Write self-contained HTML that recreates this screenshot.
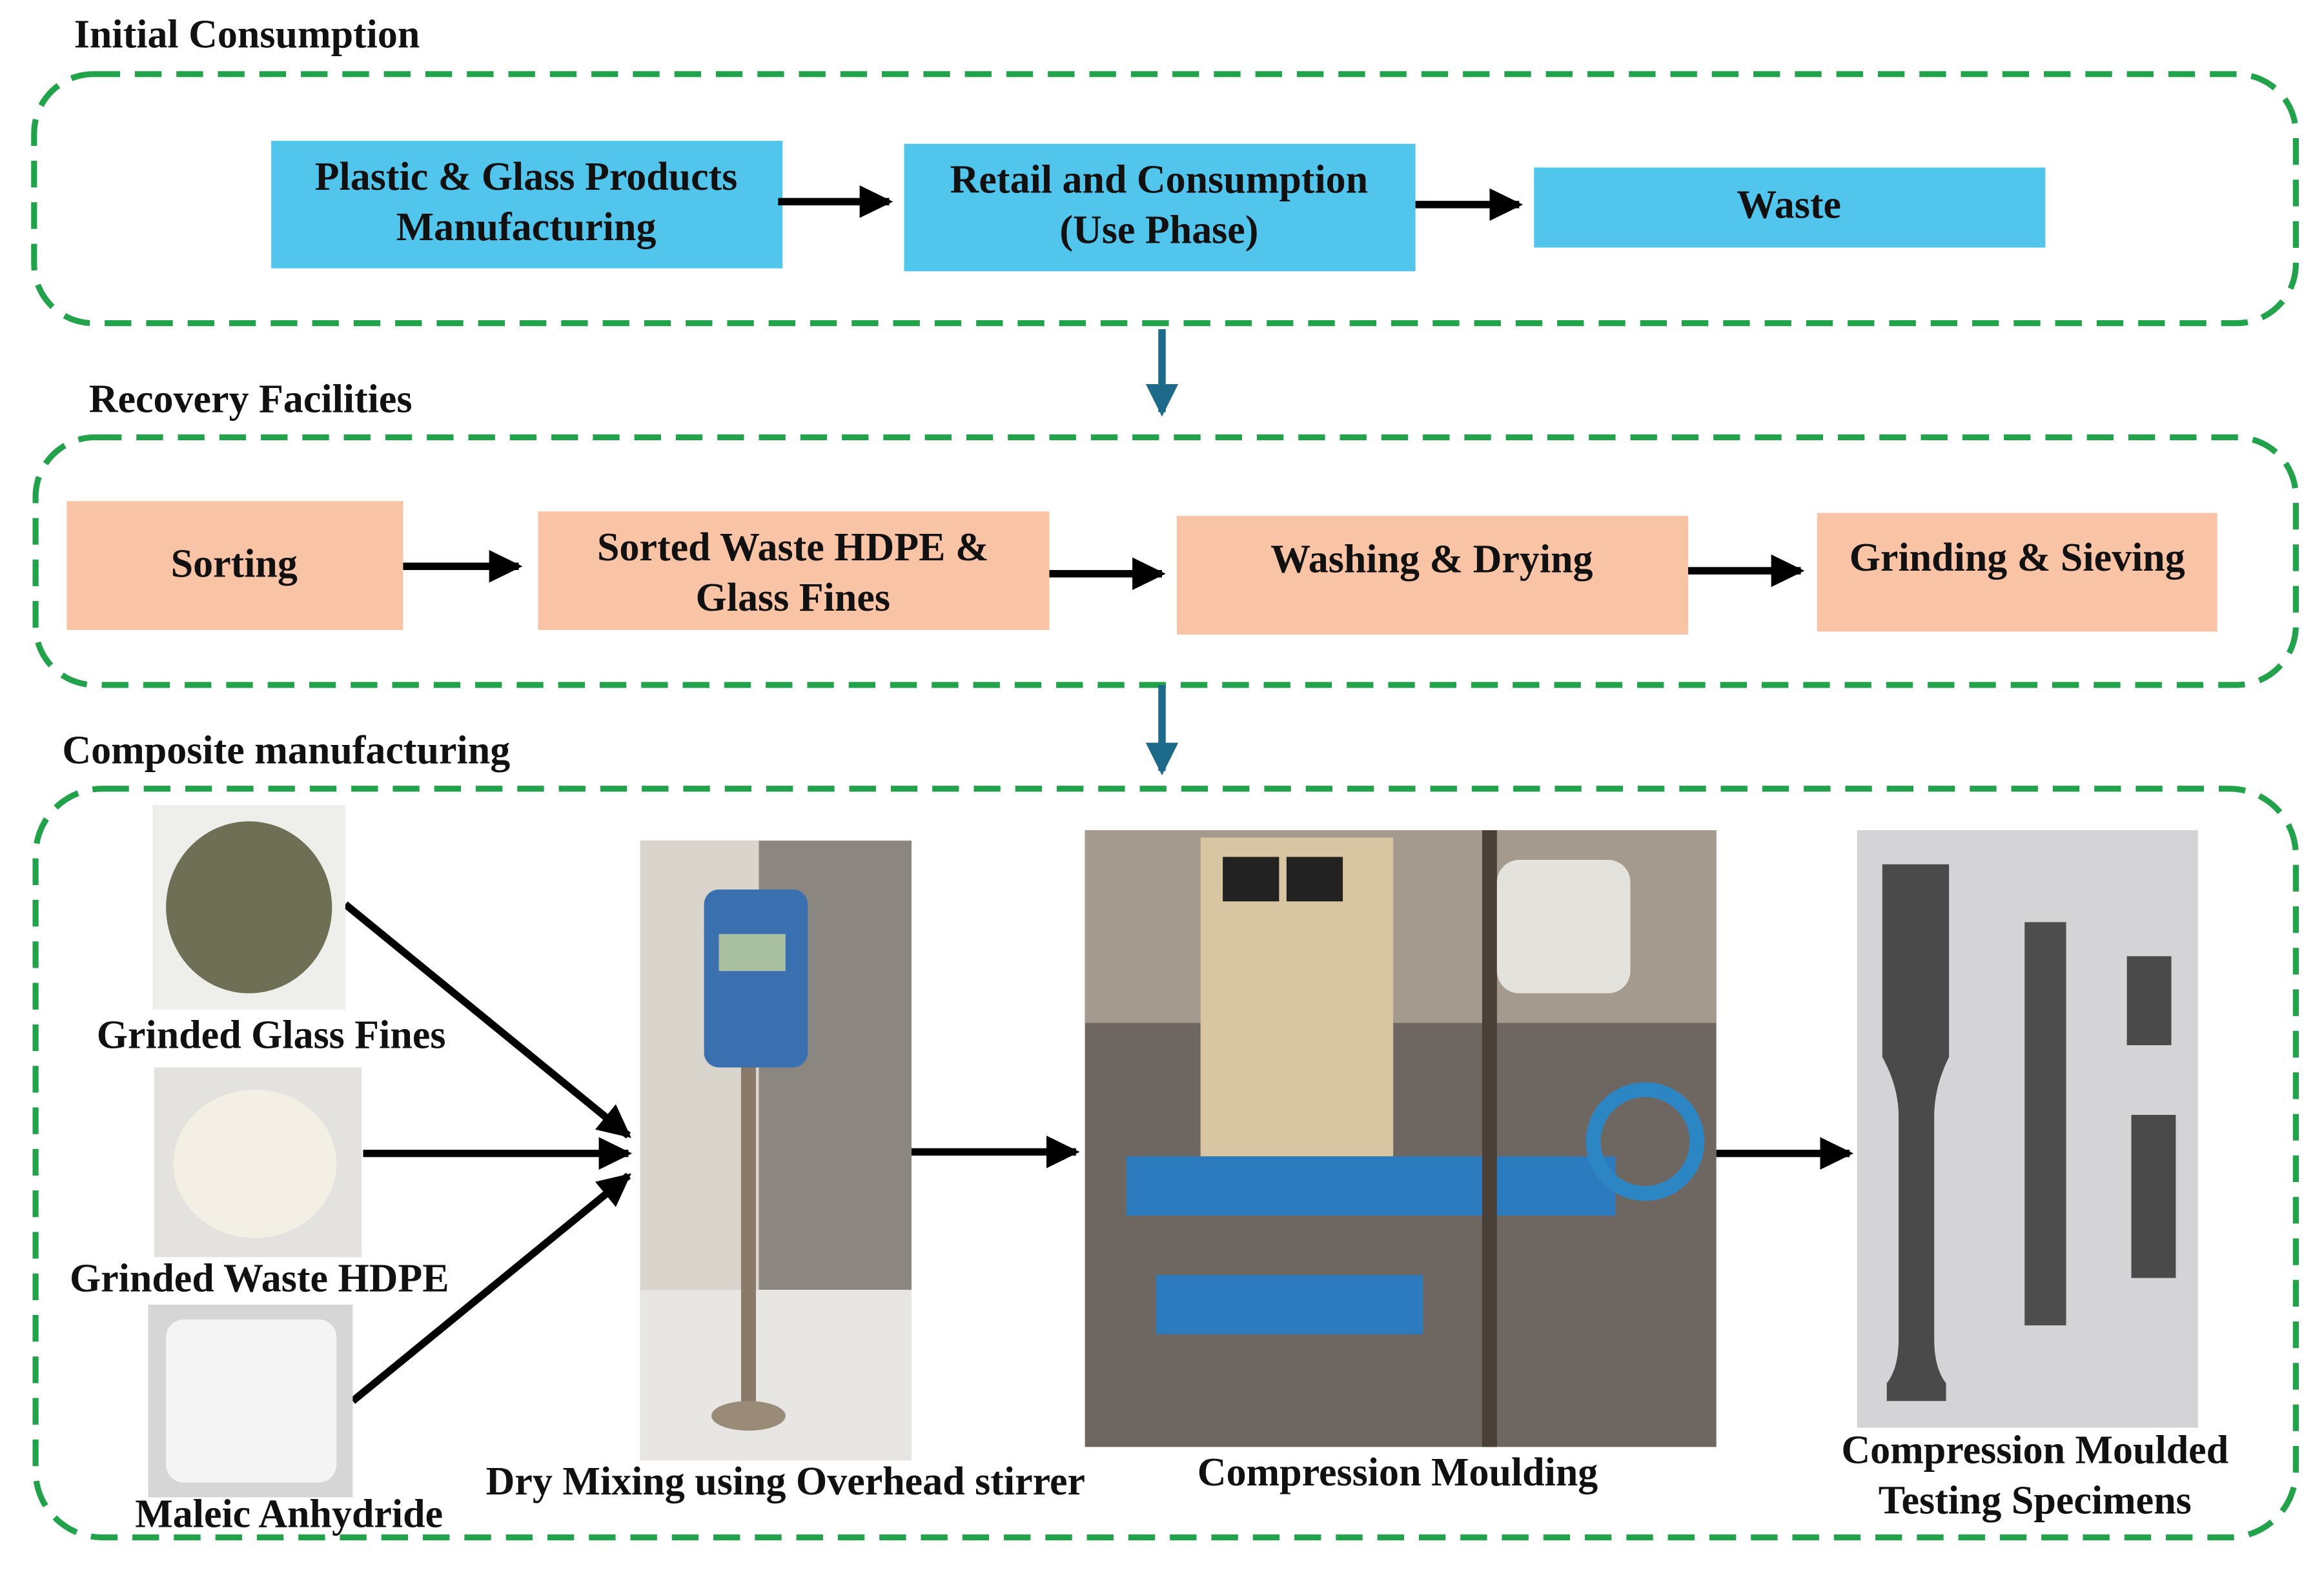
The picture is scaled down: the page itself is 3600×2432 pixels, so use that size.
<!DOCTYPE html>
<html><head><meta charset="utf-8"><style>
html,body{margin:0;padding:0;background:#fff;}
svg{display:block;}
text{font-family:"Liberation Serif",serif;font-weight:bold;fill:#111;}
</style></head><body>
<svg width="3600" height="2432" viewBox="0 0 1568 1059" preserveAspectRatio="none" xmlns="http://www.w3.org/2000/svg">
<defs>
<marker id="ah" markerWidth="4.5" markerHeight="4.4" refX="4" refY="2.2" orient="auto" markerUnits="strokeWidth"><path d="M0,0 L4.5,2.2 L0,4.4 z" fill="#000"/></marker>
<marker id="at" markerWidth="4.4" markerHeight="4.4" refX="3.8" refY="2.2" orient="auto" markerUnits="strokeWidth"><path d="M0,0 L4.4,2.2 L0,4.4 z" fill="#1d6a8a"/></marker>
</defs>
<rect width="1568" height="1059" fill="#fff"/>
<g fill="none" stroke="#22a24a" stroke-width="4" stroke-dasharray="18 10">
<rect x="23" y="50" width="1526" height="168" rx="40"/>
<rect x="24" y="295" width="1525" height="167" rx="40"/>
<rect x="24" y="532" width="1525" height="505" rx="45"/>
</g>
<g font-size="27">
<text x="50" y="32">Initial Consumption</text>
<text x="60" y="278">Recovery Facilities</text>
<text x="42" y="515">Composite manufacturing</text>
</g>
<g fill="#52c5ec">
<rect x="183" y="95" width="345" height="86"/>
<rect x="610" y="97" width="345" height="86"/>
<rect x="1035" y="113" width="345" height="54"/>
</g>
<g font-size="27" text-anchor="middle">
<text x="355" y="128">Plastic &amp; Glass Products</text>
<text x="355" y="162">Manufacturing</text>
<text x="782" y="130">Retail and Consumption</text>
<text x="782" y="164">(Use Phase)</text>
<text x="1207" y="147">Waste</text>
</g>
<g fill="#f9c3a6">
<rect x="45" y="338" width="227" height="87"/>
<rect x="363" y="345" width="345" height="80"/>
<rect x="794" y="348" width="345" height="80"/>
<rect x="1226" y="346" width="270" height="80"/>
</g>
<g font-size="27" text-anchor="middle">
<text x="158" y="389">Sorting</text>
<text x="535" y="378">Sorted Waste HDPE &amp;</text>
<text x="535" y="412">Glass Fines</text>
<text x="966" y="386">Washing &amp; Drying</text>
<text x="1361" y="385">Grinding &amp; Sieving</text>
</g>
<g stroke="#000" stroke-width="5" marker-end="url(#ah)">
<line x1="525" y1="136" x2="600" y2="136"/>
<line x1="955" y1="138" x2="1025" y2="138"/>
<line x1="272" y1="382" x2="350" y2="382"/>
<line x1="708" y1="387" x2="784" y2="387"/>
<line x1="1139" y1="385" x2="1215" y2="385"/>
<line x1="233" y1="610" x2="424" y2="766"/>
<line x1="245" y1="778" x2="424" y2="778"/>
<line x1="238" y1="945" x2="424" y2="793"/>
<line x1="615" y1="777" x2="726" y2="777"/>
<line x1="1158" y1="778" x2="1248" y2="778"/>
</g>
<g stroke="#1d6a8a" stroke-width="5" marker-end="url(#at)">
<line x1="784" y1="222" x2="784" y2="278"/>
<line x1="784" y1="462" x2="784" y2="520"/>
</g>
<rect x="103" y="543" width="130" height="138" fill="#eeeeea"/>
<ellipse cx="168" cy="612" rx="56" ry="58" fill="#6f6f55"/>
<rect x="104" y="720" width="140" height="128" fill="#e4e2de"/>
<ellipse cx="172" cy="785" rx="55" ry="50" fill="#f3efe4"/>
<rect x="100" y="880" width="138" height="130" fill="#d6d6d6"/>
<rect x="112" y="890" width="115" height="110" rx="12" fill="#f4f4f4"/>
<rect x="432" y="567" width="183" height="418" fill="#8c8680"/>
<rect x="432" y="567" width="80" height="418" fill="#d9d4cc"/>
<rect x="432" y="870" width="183" height="115" fill="#e8e6e2"/>
<rect x="475" y="600" width="70" height="120" rx="10" fill="#3a6fb0"/>
<rect x="485" y="630" width="45" height="25" fill="#a9c0a0"/>
<rect x="500" y="720" width="10" height="230" fill="#8a7a6a"/>
<ellipse cx="505" cy="955" rx="25" ry="10" fill="#9a8a78"/>
<rect x="732" y="560" width="426" height="416" fill="#6e6660"/>
<rect x="732" y="560" width="426" height="130" fill="#a59a8e"/>
<rect x="810" y="565" width="130" height="215" fill="#d8c6a2"/>
<rect x="825" y="578" width="38" height="30" fill="#222"/>
<rect x="868" y="578" width="38" height="30" fill="#222"/>
<rect x="760" y="780" width="330" height="40" fill="#2d7bbf"/>
<rect x="780" y="860" width="180" height="40" fill="#2d7bbf"/>
<circle cx="1110" cy="770" r="35" fill="none" stroke="#2d86c4" stroke-width="10"/>
<rect x="1000" y="560" width="10" height="416" fill="#4a4038"/>
<rect x="1010" y="580" width="90" height="90" rx="15" fill="#e4e2dc"/>
<rect x="1253" y="560" width="230" height="403" fill="#d4d4d6"/>
<path d="M1270,583 h45 v130 q-10,20 -10,40 v150 q0,20 8,30 v12 h-40 v-12 q8,-10 8,-30 v-150 q0,-20 -11,-40 z" fill="#4a4a4a"/>
<rect x="1366" y="622" width="28" height="272" fill="#4e4e4e"/>
<rect x="1435" y="645" width="30" height="60" fill="#4a4a4a"/>
<rect x="1438" y="752" width="30" height="110" fill="#4a4a4a"/>
<g font-size="27" text-anchor="middle">
<text x="183" y="707">Grinded Glass Fines</text>
<text x="175" y="871">Grinded Waste HDPE</text>
<text x="195" y="1030">Maleic Anhydride</text>
<text x="530" y="1008">Dry Mixing using Overhead stirrer</text>
<text x="943" y="1002">Compression Moulding</text>
<text x="1373" y="987">Compression Moulded</text>
<text x="1373" y="1021">Testing Specimens</text>
</g>
</svg>
</body></html>
